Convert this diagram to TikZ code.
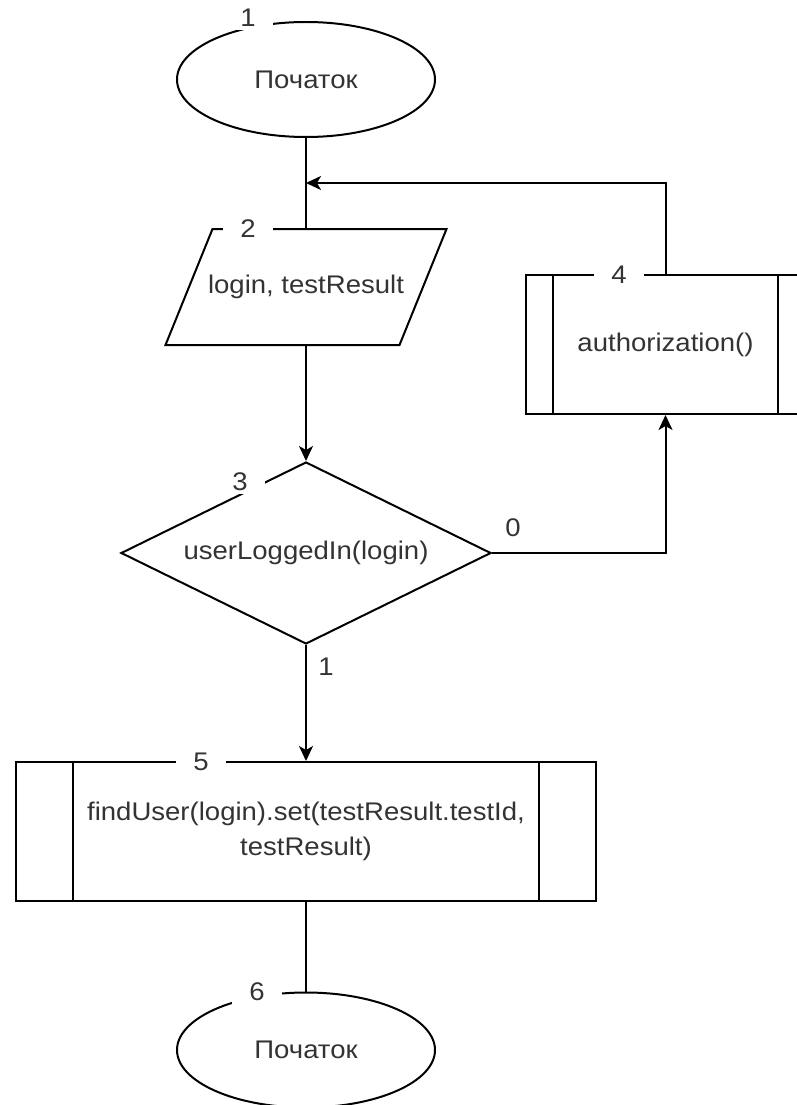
\documentclass[tikz,border=0pt]{standalone}
\usepackage{fontspec}
\setmainfont{Liberation Sans}[FakeStretch=1.08]
\usetikzlibrary{shapes.geometric,arrows.meta}
\definecolor{txt}{RGB}{51,51,51}
\begin{document}
\begin{tikzpicture}[x=1pt,y=-1pt,line width=2pt,
  every node/.append style={font=\fontsize{25.5}{35}\selectfont,text=txt},
  term/.style={draw,ellipse,minimum width=258,minimum height=115,inner sep=0},
  proc/.style={draw,rectangle,inner sep=0,align=center},
  lbl/.style={fill=white,inner xsep=17,inner ysep=3},
  arr/.style={-{Stealth[length=15,width=14,inset=4]}}]
\useasboundingbox (0,0) rectangle (796,1105);
% shapes
\node[term] (n1) at (306,79.5) {Початок};
\node[minimum width=232,minimum height=114,inner sep=0] (n2) at (306,287) {login, testResult};
\draw ([xshift=23.5]n2.north west) -- ([xshift=23.5]n2.north east) -- ([xshift=-23.5]n2.south east) -- ([xshift=-23.5]n2.south west) -- cycle;
\node[draw,diamond,aspect=2.03,minimum width=370,minimum height=182,inner sep=0] (n3) at (306,553) {userLoggedIn(login)};
\node[proc,minimum width=279,minimum height=139] (n4) at (665.5,344.5) {authorization()};
\draw ([xshift=28]n4.north west) -- ([xshift=28]n4.south west);
\draw ([xshift=-28]n4.north east) -- ([xshift=-28]n4.south east);
\node[proc,minimum width=580,minimum height=139] (n5) at (306,831.5) {findUser(login).set(testResult.testId,\\testResult)};
\draw ([xshift=58]n5.north west) -- ([xshift=58]n5.south west);
\draw ([xshift=-58]n5.north east) -- ([xshift=-58]n5.south east);
\node[term] (n6) at (306,1050) {Початок};
% connectors
\coordinate (m) at (306,183);
\draw (n1.south) -- (n2.north);
\draw[arr] (n4.north) |- (m);
\draw[arr] (n2.south) -- (n3.north);
\draw[arr] (n3.east) -| (n4.south);
\draw[arr] (n3.south) -- (n5.north);
\draw (n5.south) -- (n6.north);
% number labels
\node[lbl] (l1) at (248,18) {1};
\node[lbl] (l2) at (248,229) {2};
\node[lbl] (l3) at (240,482) {3};
\node[lbl] (l4) at (619,275) {4};
\node[lbl] (l5) at (201,762) {5};
\node[lbl] (l6) at (257,992) {6};
\node (e0) at (513,528) {0};
\node (e1) at (326,667) {1};
\end{tikzpicture}
\end{document}
